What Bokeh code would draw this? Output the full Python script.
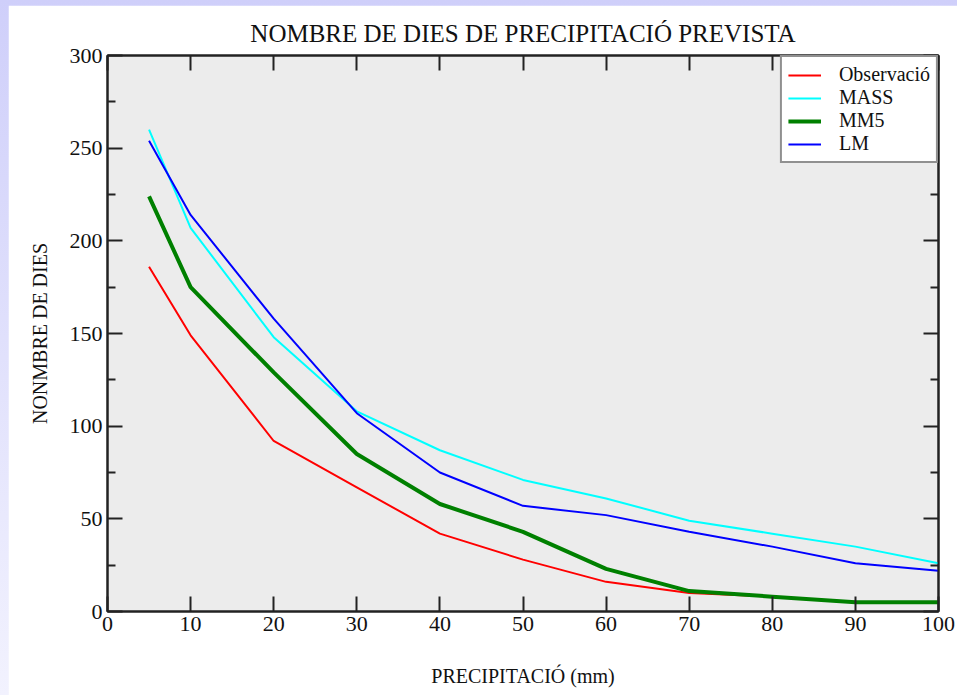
from bokeh.plotting import figure
from bokeh.models import LinearAxis, Range1d, FixedTicker, Legend, LegendItem, Column
from bokeh.embed import file_html
from bokeh.resources import INLINE

# ---- data ----
precip = [5, 10, 20, 30, 40, 50, 60, 70, 80, 90, 100]
observacio = [186, 149, 92, 67, 42, 28, 16, 10, 8, 5, 5]
mass = [260, 207, 148, 108, 87, 71, 61, 49, 42, 35, 26]
mm5 = [224, 175, 129, 85, 58, 43, 23, 11, 8, 5, 5]
lm = [254, 214, 158, 107, 75, 57, 52, 43, 35, 26, 22]

x_ticks = [0, 10, 20, 30, 40, 50, 60, 70, 80, 90, 100]
y_ticks = [0, 50, 100, 150, 200, 250, 300]
y_minor = [25, 75, 125, 175, 225, 275]

title_text = "NOMBRE DE DIES DE PRECIPITACIÓ PREVISTA"
x_label = "PRECIPITACIÓ (mm)"
y_label = "NONMBRE DE DIES"

FONT = "Liberation Serif"

p = figure(width=949, height=690, output_backend="svg", toolbar_location=None,
           x_range=Range1d(0, 100), y_range=Range1d(0, 300),
           x_axis_type=None, y_axis_type=None,
           min_border_left=99, min_border_top=50, min_border_right=19, min_border_bottom=84,
           background_fill_color="#ececec", border_fill_color="white",
           outline_line_color="#222222", outline_line_width=2)
p.margin = (5, 0, 0, 8)
p.grid.visible = False

p.title.text = title_text
p.title.align = "center"
p.title.text_font = FONT
p.title.text_font_size = "25px"
p.title.text_font_style = "normal"
p.title.text_color = "#111111"
p.title.standoff = 17


def make_axis(ticks, minor, labels):
    ax = LinearAxis(ticker=FixedTicker(ticks=ticks, minor_ticks=minor))
    ax.major_tick_in = 15
    ax.major_tick_out = 0
    ax.minor_tick_in = 8
    ax.minor_tick_out = 0
    ax.major_tick_line_color = "#222222"
    ax.minor_tick_line_color = "#222222"
    ax.major_tick_line_width = 2
    ax.minor_tick_line_width = 2
    ax.axis_line_color = "#222222"
    ax.axis_line_width = 2
    ax.major_label_text_font = FONT
    ax.major_label_text_color = "#111111"
    if labels:
        ax.major_label_text_font_size = "22px"
        ax.major_label_standoff = 5
    else:
        ax.major_label_text_font_size = "1px"
        ax.major_label_text_alpha = 0
        ax.major_label_standoff = 0
    ax.axis_label_text_font = FONT
    ax.axis_label_text_font_style = "normal"
    ax.axis_label_text_font_size = "20px"
    ax.axis_label_text_color = "#111111"
    return ax


xb = make_axis(x_ticks, [], True)
xb.axis_label = x_label
xb.axis_label_standoff = 31
yl = make_axis(y_ticks, y_minor, True)
yl.axis_label = y_label
yl.axis_label_standoff = 16
xt = make_axis(x_ticks, [], False)
yr = make_axis(y_ticks, y_minor, False)

p.add_layout(xb, "below")
p.add_layout(yl, "left")
p.add_layout(xt, "above")
p.add_layout(yr, "right")

r_obs = p.line(precip, observacio, line_color="#ff0000", line_width=2)
r_mass = p.line(precip, mass, line_color="#00ffff", line_width=2)
r_mm5 = p.line(precip, mm5, line_color="#008000", line_width=4)
r_lm = p.line(precip, lm, line_color="#0000ff", line_width=2)

legend = Legend(items=[
    LegendItem(label="Observació", renderers=[r_obs]),
    LegendItem(label="MASS", renderers=[r_mass]),
    LegendItem(label="MM5", renderers=[r_mm5]),
    LegendItem(label="LM", renderers=[r_lm]),
], location="top_right")
legend.margin = 0
legend.padding = 6
legend.spacing = 0
legend.glyph_width = 33
legend.glyph_height = 18
legend.label_height = 18
legend.label_standoff = 18
legend.label_text_font = FONT
legend.label_text_font_size = "20px"
legend.label_text_line_height = 1.0
legend.label_text_color = "#111111"
legend.border_line_color = "#222222"
legend.border_line_width = 2
legend.background_fill_color = "white"
legend.background_fill_alpha = 1
p.add_layout(legend)

page = Column(children=[p], styles={"background": "linear-gradient(#cfcffa, #f2f2fe)"})

open("out.html", "w").write(file_html(page, INLINE))
